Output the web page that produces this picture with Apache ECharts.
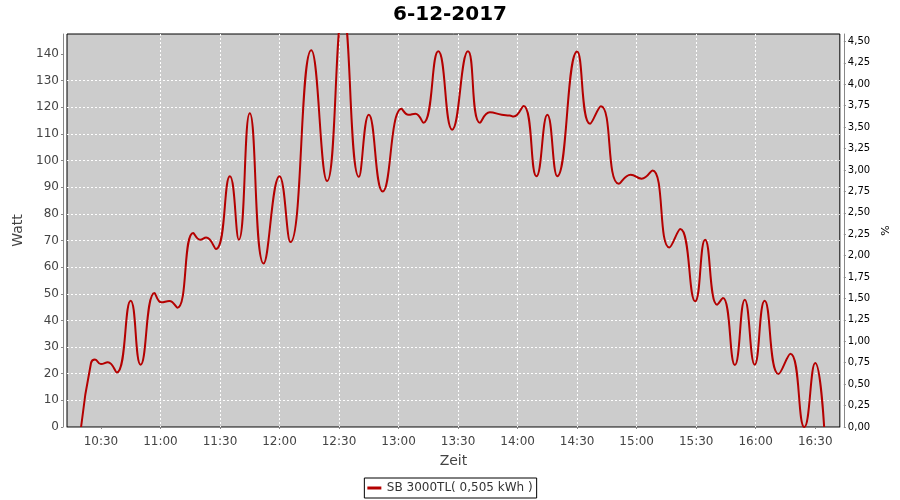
<!DOCTYPE html>
<html><head><meta charset="utf-8">
<script src="https://cdn.jsdelivr.net/npm/echarts@6/dist/echarts.min.js"></script>
<style>html,body{margin:0;padding:0;background:#fff}#c{width:900px;height:500px}</style>
</head><body><div id="c"></div>
<script>
// Sample times (HH:MM:SS) and power values (Watt)
const times = ["10:20","10:25","10:27","10:30","10:33:30","10:38","10:45","10:50","10:57","11:00:30","11:04:30","11:08:30",
  "11:16:30","11:20","11:23","11:28","11:35","11:39:30","11:45","11:52","12:00","12:05:30","12:16","12:24","12:32",
  "12:40","12:45","12:52","13:01:30","13:05","13:08:30","13:12:30","13:20","13:27","13:35","13:41","13:46","13:52",
  "13:56","13:58","14:03","14:09:30","14:15","14:20","14:30","14:36:30","14:42","14:51","14:57","15:02:30","15:08",
  "15:16:30","15:22","15:29:30","15:34:30","15:40:30","15:43:30","15:49:30","15:54:30","15:59:30","16:04:30",
  "16:11:30","16:17:30","16:24:30","16:30","16:34:30"];
const watts = [0,24,25.3,23.6,24.3,20.5,47.4,23.4,50.3,46.8,47.3,44.8,
  72.8,70.3,71.1,66.8,94.1,70.3,117.8,61.4,94.1,69.4,141.4,92.3,156,
  93.9,117.2,88.4,119.4,117.2,117.6,114.2,141,111.6,141,114.2,118.1,117.2,
  116.9,116.5,120.5,94.1,117.2,94.1,140.9,113.8,120.4,91.3,94.7,93.2,96.3,
  67.4,74.3,47.2,70.3,45.9,48.4,23.3,47.8,23.4,47.4,
  19.9,27.5,0,24,0];
const xTickLabels = ["10:30","11:00","11:30","12:00","12:30","13:00","13:30","14:00","14:30","15:00","15:30","16:00","16:30"];
const wattTicks = [0,10,20,30,40,50,60,70,80,90,100,110,120,130,140];
const pctTicks = [0,0.25,0.5,0.75,1,1.25,1.5,1.75,2,2.25,2.5,2.75,3,3.25,3.5,3.75,4,4.25,4.5];
const xRange = ["10:12:54","16:42:24"];
const wattMax = 147.5;
const pctMax = 4.586;
const seriesName = "SB 3000TL( 0,505 kWh )";
const titleText = "6-12-2017";

function toMin(s){const p=s.split(':').map(Number);return p[0]*60+p[1]+(p[2]||0)/60;}
function fmtMin(v){const h=Math.floor(v/60+1e-9);const m=Math.round(v-h*60);return h+':'+String(m).padStart(2,'0');}

const F = 'DejaVu Sans';
const data = times.map((t,i)=>[toMin(t), watts[i]]);
const chart = echarts.init(document.getElementById('c'), null, {renderer:'canvas'});
chart.setOption({
  animation:false,
  backgroundColor:'#ffffff',
  textStyle:{fontFamily:F},
  title:{text:titleText,left:'center',top:0,textStyle:{fontFamily:F,fontSize:20,fontWeight:'bold',color:'#000'}},
  grid:{left:67,right:60,top:34,bottom:73,show:true,backgroundColor:'#cccccc',borderColor:'#000',borderWidth:1},
  legend:{data:[{name:seriesName,icon:'path://M0,4L14,4L14,7L0,7Z'}],bottom:2,left:'center',
    borderColor:'#000',borderWidth:1,padding:[4,4,4,3],itemWidth:15,itemHeight:3,itemGap:4,
    textStyle:{fontFamily:F,fontSize:12,color:'#333'}},
  xAxis:{type:'value',min:toMin(xRange[0]),max:toMin(xRange[1]),position:'bottom',offset:4,
    name:'Zeit',nameLocation:'middle',nameGap:23,nameTextStyle:{fontFamily:F,fontSize:14,color:'#444'},
    axisLine:{show:true,lineStyle:{color:'#888',width:1}},
    axisTick:{show:true,length:2,lineStyle:{color:'#888'},customValues:xTickLabels.map(toMin)},
    axisLabel:{customValues:xTickLabels.map(toMin),formatter:v=>fmtMin(v),color:'#444',fontSize:12,margin:5,fontFamily:F},
    splitLine:{show:true,showMinLine:false,showMaxLine:false,lineStyle:{color:'#ffffff',width:1,type:[2,2]}}},
  yAxis:[{type:'value',min:0,max:wattMax,position:'left',offset:4,
    name:'Watt',nameLocation:'middle',nameGap:34,nameTextStyle:{fontFamily:F,fontSize:14,color:'#444'},
    axisLine:{show:true,lineStyle:{color:'#888',width:1}},
    axisTick:{show:true,length:2,lineStyle:{color:'#888'},customValues:wattTicks},
    axisLabel:{customValues:wattTicks,color:'#444',fontSize:12,margin:4,fontFamily:F},
    splitLine:{show:true,showMinLine:false,showMaxLine:false,lineStyle:{color:'#ffffff',width:1,type:[2,2]}}},
   {type:'value',min:0,max:pctMax,position:'right',offset:4,
    name:'%',nameLocation:'middle',nameGap:33,nameRotate:90,nameTextStyle:{fontFamily:F,fontSize:11,color:'#000'},
    axisLine:{show:true,lineStyle:{color:'#888',width:1}},
    axisTick:{show:true,length:2,lineStyle:{color:'#888'},customValues:pctTicks},
    axisLabel:{customValues:pctTicks,formatter:v=>v.toFixed(2).replace('.',','),color:'#000',fontSize:10,margin:4,fontFamily:F},
    splitLine:{show:false}}],
  series:[{name:seriesName,type:'line',yAxisIndex:0,data:data,smooth:0.5,showSymbol:false,clip:true,
    lineStyle:{color:'#b40000',width:2},itemStyle:{color:'#b40000'}}]
});
</script></body></html>
